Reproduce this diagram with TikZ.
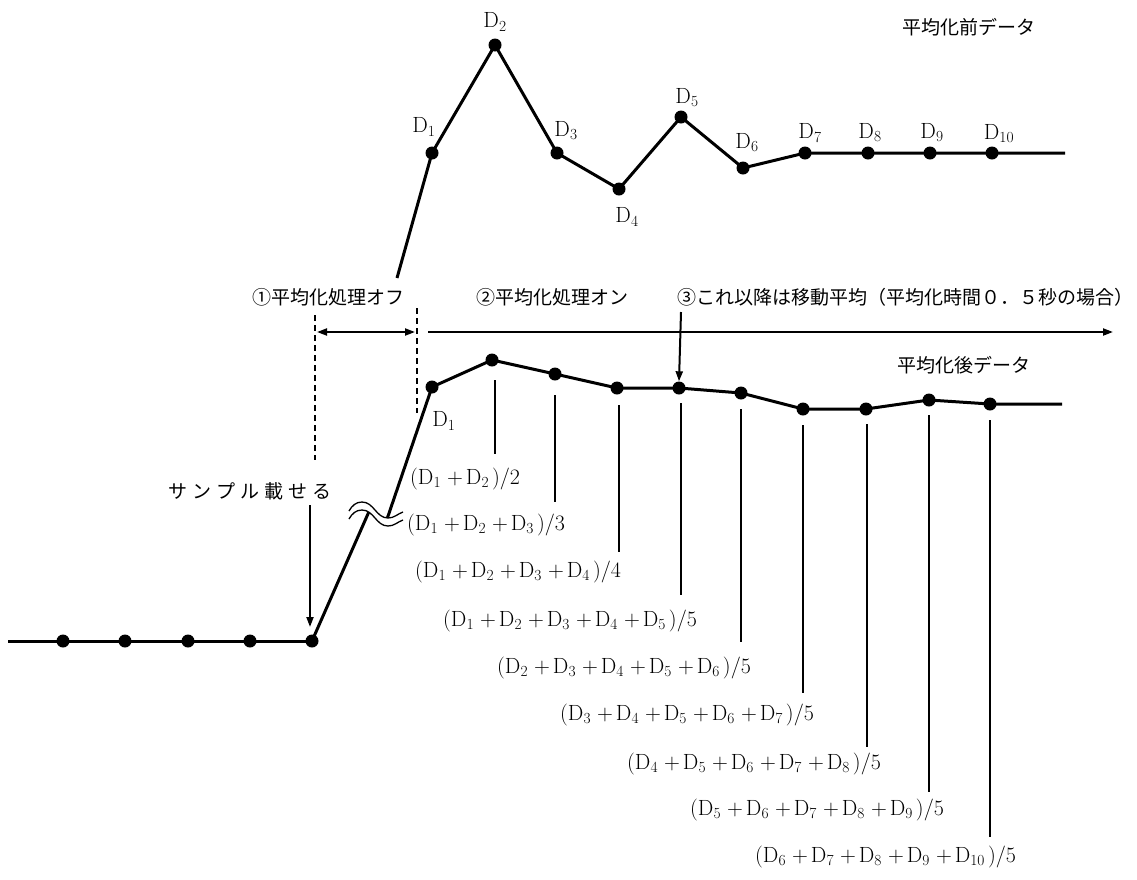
\documentclass[tikz,border=0pt]{standalone}
\usepackage{fontspec}
\newfontfamily\jp{Noto Sans CJK JP}
\usetikzlibrary{arrows.meta,calc}
\newcommand\dd[1]{D\textsubscript{#1}\kern3pt}
\newcommand\pl{\kern3pt+\kern3pt}
\begin{document}
\begin{tikzpicture}[x=1pt,y=-1pt,
  dot/.style={circle,fill=black,inner sep=0pt,minimum size=13pt},
  dlab/.style={font=\fontsize{22}{26}\selectfont,inner sep=0pt},
  jlab/.style={font=\jp\fontsize{19}{22}\selectfont,inner sep=0pt,anchor=west},
  frm/.style={font=\fontsize{22}{26}\selectfont,inner sep=0pt,anchor=west},
  mainline/.style={line width=3pt,line join=round},
  drop/.style={line width=2pt},
  arr/.style={line width=2pt,-{Triangle[length=10pt,width=7pt]}},
  darr/.style={line width=2pt,{Triangle[length=10pt,width=7pt]}-{Triangle[length=10pt,width=7pt]}},
  dashline/.style={line width=2pt,dash pattern=on 6pt off 4pt}]
\useasboundingbox (0,0) rectangle (1137,879);

% ---------- top (before averaging) ----------
\node[dot] (t1) at (432,153) {};
\node[dot] (t2) at (495,45) {};
\node[dot] (t3) at (557,153) {};
\node[dot] (t4) at (619,189) {};
\node[dot] (t5) at (681,117) {};
\node[dot] (t6) at (743,168) {};
\node[dot] (t7) at (805,153) {};
\node[dot] (t8) at (868,153) {};
\node[dot] (t9) at (930,153) {};
\node[dot] (t10) at (992,153) {};
\coordinate (tstart) at (397,278);
\coordinate (tend) at (1065,153);
\draw[mainline] (tstart) -- (t1.center) -- (t2.center) -- (t3.center) -- (t4.center) -- (t5.center)
  -- (t6.center) -- (t7.center) -- (t8.center) -- (t9.center) -- (t10.center) -- (tend);

\node[dlab] (lt1) at (424,127) {D\textsubscript{1}};
\node[dlab] (lt2) at (495,22) {D\textsubscript{2}};
\node[dlab] (lt3) at (566,131) {D\textsubscript{3}};
\node[dlab] (lt4) at (627,217) {D\textsubscript{4}};
\node[dlab] (lt5) at (687,98) {D\textsubscript{5}};
\node[dlab] (lt6) at (747,143) {D\textsubscript{6}};
\node[dlab] (lt7) at (810,133) {D\textsubscript{7}};
\node[dlab] (lt8) at (870,133) {D\textsubscript{8}};
\node[dlab] (lt9) at (932,133) {D\textsubscript{9}};
\node[dlab] (lt10) at (999,134) {D\textsubscript{10}};

\node[jlab] (before) at (902,27) {平均化前データ};

% ---------- labels and arrows ----------
\node[jlab] (off) at (252,297) {①平均化処理オフ};
\node[jlab] (on) at (476,297) {②平均化処理オン};
\node[jlab] (mov) at (677,297) {③これ以降は移動平均（平均化時間０．５秒の場合）};
\node[jlab] (after) at (897,365) {平均化後データ};

\coordinate (da1) at (315,315);
\coordinate (da2) at (315,460);
\coordinate (db1) at (417,308);
\coordinate (db2) at (417,413);
\draw[dashline] (da1) -- (da2);
\draw[dashline] (db1) -- (db2);
\coordinate (ha) at (317,332);
\coordinate (hb) at (415,332);
\draw[darr] (ha) -- (hb);
\coordinate (ra) at (428,332);
\coordinate (rb) at (1113,332);
\draw[arr] (ra) -- (rb);

% ---------- bottom baseline ----------
\coordinate (bstart) at (8,641);
\node[dot] (b0) at (63,641) {};
\node[dot] (b1) at (125,641) {};
\node[dot] (b2) at (188,641) {};
\node[dot] (b3) at (250,641) {};
\node[dot] (b4) at (312,641) {};
\draw[mainline] (bstart) -- (b4.center);

\node[jlab] (sample) at (168,491) {サ\kern5pt ン\kern5pt プ\kern5pt ル\kern5pt 載\kern5pt せ\kern5pt る};
\coordinate (sa) at (310,505);
\coordinate (sb) at (310,627);
\draw[arr] (sa) -- (sb);

% ---------- averaged data ----------
\node[dot] (p1) at (432,387) {};
\node[dot] (p2) at (492,360) {};
\node[dot] (p3) at (555,374) {};
\node[dot] (p4) at (617,388) {};
\node[dot] (p5) at (679,388) {};
\node[dot] (p6) at (741,393) {};
\node[dot] (p7) at (803,409) {};
\node[dot] (p8) at (866,409) {};
\node[dot] (p9) at (929,400) {};
\node[dot] (p10) at (990,404) {};
\coordinate (pend) at (1062,404);
\draw[mainline] (p1.center) -- (p2.center) -- (p3.center) -- (p4.center) -- (p5.center) -- (p6.center)
  -- (p7.center) -- (p8.center) -- (p9.center) -- (p10.center) -- (pend);
\node[dlab] (lp1) at (444,421) {D\textsubscript{1}};

% rising line with break
\coordinate (lowbrk) at (371,507);
\coordinate (upbrk) at (385,525);
\draw[mainline] (b4.center) -- (lowbrk);
\draw[mainline] (p1.center) -- (upbrk);
\fill[white] (349,511) to[out=60,in=180] (362,502) to[out=0,in=180] (388,518) to[out=0,in=200] (403,512)
  -- (403,520) to[out=200,in=0] (388,526) to[out=180,in=0] (362,510) to[out=180,in=60] (349,519) -- cycle;
\draw[line width=1.3pt] (349,511) to[out=60,in=180] (362,502) to[out=0,in=180] (388,518) to[out=0,in=200] (403,512);
\draw[line width=1.3pt] (349,519) to[out=60,in=180] (362,510) to[out=0,in=180] (388,526) to[out=0,in=200] (403,520);

\coordinate (ma) at (681,312);
\draw[arr] (ma) -- (p5.north);

% drop lines
\coordinate (e2) at (495,454);
\coordinate (e3) at (555,502);
\coordinate (e4) at (619,552);
\coordinate (e5) at (681,595);
\coordinate (e6) at (741,642);
\coordinate (e7) at (803,693);
\coordinate (e8) at (867,747);
\coordinate (e9) at (929,792);
\coordinate (e10) at (990,837);
\draw[drop] (495,380) -- (e2);
\draw[drop] (555,395) -- (e3);
\draw[drop] (619,405) -- (e4);
\draw[drop] (681,403) -- (e5);
\draw[drop] (741,409) -- (e6);
\draw[drop] (803,425) -- (e7);
\draw[drop] (867,424) -- (e8);
\draw[drop] (929,415) -- (e9);
\draw[drop] (990,420) -- (e10);

% formulas
\node[frm] (f2) at (410,479) {(\dd{1}\pl\dd{2})/2};
\node[frm] (f3) at (407,525) {(\dd{1}\pl\dd{2}\pl\dd{3})/3};
\node[frm] (f4) at (415,572) {(\dd{1}\pl\dd{2}\pl\dd{3}\pl\dd{4})/4};
\node[frm] (f5) at (443,621) {(\dd{1}\pl\dd{2}\pl\dd{3}\pl\dd{4}\pl\dd{5})/5};
\node[frm] (f6) at (497,668) {(\dd{2}\pl\dd{3}\pl\dd{4}\pl\dd{5}\pl\dd{6})/5};
\node[frm] (f7) at (560,715) {(\dd{3}\pl\dd{4}\pl\dd{5}\pl\dd{6}\pl\dd{7})/5};
\node[frm] (f8) at (627,764) {(\dd{4}\pl\dd{5}\pl\dd{6}\pl\dd{7}\pl\dd{8})/5};
\node[frm] (f9) at (690,810) {(\dd{5}\pl\dd{6}\pl\dd{7}\pl\dd{8}\pl\dd{9})/5};
\node[frm] (f10) at (755,857) {(\dd{6}\pl\dd{7}\pl\dd{8}\pl\dd{9}\pl\dd{10})/5};
\end{tikzpicture}
\end{document}
